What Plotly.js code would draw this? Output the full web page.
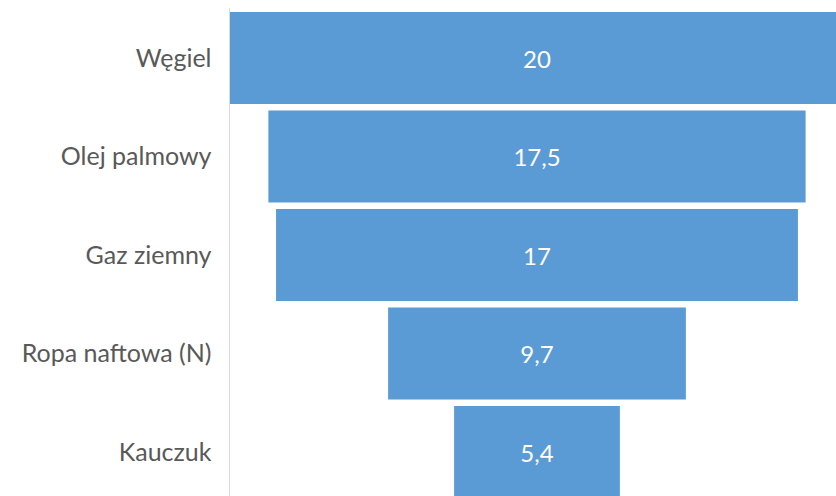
<!DOCTYPE html>
<html>
<head>
<meta charset="utf-8">
<script src="https://cdn.plot.ly/plotly-3.0.1.min.js"></script>
<style>html,body{margin:0;padding:0;background:#fff;}#chart{width:836px;height:496px;}</style>
</head>
<body>
<div id="chart"></div>
<script>
const categories = ["Węgiel", "Olej palmowy", "Gaz ziemny", "Ropa naftowa (N)", "Kauczuk"];
const values = [20, 17.5, 17, 9.7, 5.4];
const valueLabels = ["20", "17,5", "17", "9,7", "5,4"];

const trace = {
  type: "funnel",
  y: categories,
  x: values,
  text: valueLabels,
  textinfo: "text",
  textposition: "inside",
  insidetextanchor: "middle",
  constraintext: "none",
  textfont: {family: "Lato, 'Open Sans', sans-serif", size: 24, color: "#ffffff"},
  marker: {color: "#5b9bd5", line: {width: 0}},
  connector: {visible: false},
  hoverinfo: "none",
  cliponaxis: true
};

const layout = {
  width: 836,
  height: 496,
  margin: {l: 230, r: 0, t: 8, b: 0, pad: 0},
  paper_bgcolor: "#ffffff",
  plot_bgcolor: "#ffffff",
  showlegend: false,
  funnelgap: 0.066,
  uniformtext: {mode: false},
  xaxis: {
    visible: false,
    range: [-10, 9.74],
    autorange: false,
    fixedrange: true
  },
  yaxis: {
    type: "category",
    range: [4.446, -0.508],
    autorange: false,
    showline: true,
    linecolor: "#d9d9d9",
    linewidth: 1.5,
    showgrid: false,
    zeroline: false,
    ticks: "",
    ticklabelstandoff: 12,
    tickfont: {family: "Lato, 'Open Sans', sans-serif", size: 25, color: "#595959"}
  }
};

Plotly.newPlot("chart", [trace], layout, {displayModeBar: false, staticPlot: true});
</script>
</body>
</html>
